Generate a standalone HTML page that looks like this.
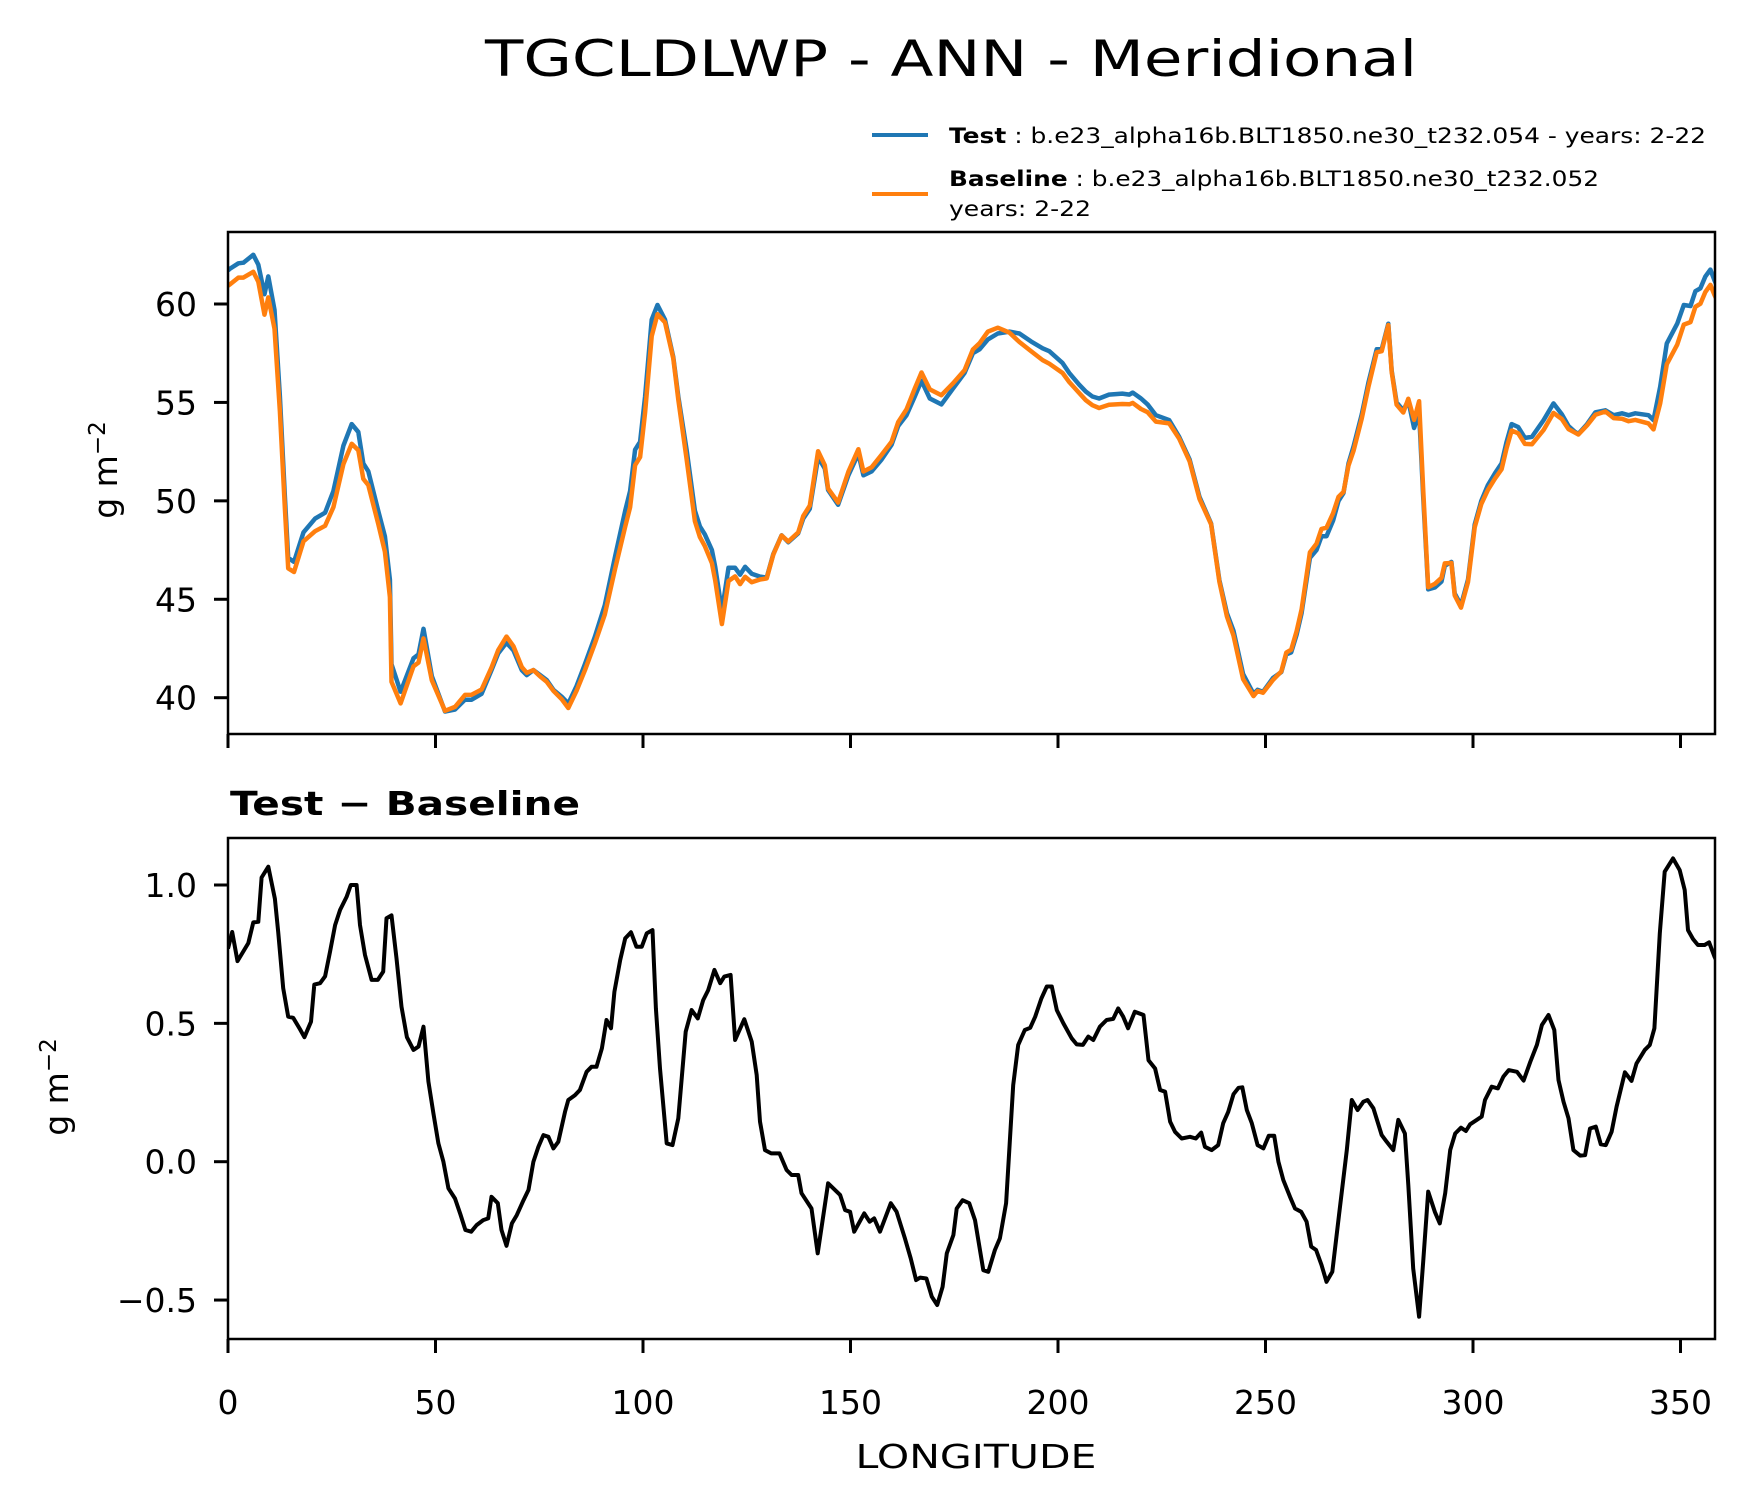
<!DOCTYPE html>
<html><head><meta charset="utf-8"><style>
html,body{margin:0;padding:0;background:#fff;}
svg{display:block;font-family:"DejaVu Sans","Liberation Sans",sans-serif;}
</style></head><body>
<svg id="chart" width="1748" height="1496" viewBox="0 0 1748 1496" xmlns="http://www.w3.org/2000/svg">
<defs>
<clipPath id="clipTop"><rect x="228" y="232" width="1487" height="502"/></clipPath>
<clipPath id="clipBot"><rect x="228" y="838" width="1487" height="501"/></clipPath>
</defs>
<text x="951" y="76" font-size="50" text-anchor="middle" textLength="932" lengthAdjust="spacingAndGlyphs">TGCLDLWP - ANN - Meridional</text>
<g>
<line x1="872" y1="135" x2="928" y2="135" stroke="#1f77b4" stroke-width="4"/>
<text x="949" y="143" font-size="21" textLength="757" lengthAdjust="spacingAndGlyphs"><tspan font-weight="bold">Test</tspan> : b.e23_alpha16b.BLT1850.ne30_t232.054 - years: 2-22</text>
<line x1="872" y1="194" x2="928" y2="194" stroke="#ff7f0e" stroke-width="4"/>
<text x="949" y="186" font-size="21" textLength="650" lengthAdjust="spacingAndGlyphs"><tspan font-weight="bold">Baseline</tspan> : b.e23_alpha16b.BLT1850.ne30_t232.052</text>
<text x="949" y="216" font-size="21" textLength="142" lengthAdjust="spacingAndGlyphs">years: 2-22</text>
</g>
<g id="topAxes"></g>
<g id="botAxes"></g>
<text x="230" y="815" font-size="33" font-weight="bold" textLength="350" lengthAdjust="spacingAndGlyphs">Test − Baseline</text>
<text x="976" y="1468" font-size="33" text-anchor="middle" textLength="241" lengthAdjust="spacingAndGlyphs">LONGITUDE</text>
<text transform="translate(117,470) rotate(-90)" font-size="33" text-anchor="middle">g m<tspan dy="-12" font-size="23">−2</tspan></text>
<text transform="translate(68,1087) rotate(-90)" font-size="33" text-anchor="middle">g m<tspan dy="-12" font-size="23">−2</tspan></text>
</svg>
<script>
const testLon=[0,0.5,2.5,3.7,6.1,7.3,8.8,9.7,11.2,12.5,13.7,14.5,15.9,18.2,21,23.4,25.4,27.8,29.8,31.4,32.6,33.8,36.2,37.8,39,39.4,41.6,44.7,45.9,47.1,49.1,52.3,54.7,57.1,58.7,61.1,63.5,65.1,67.1,68.8,70.8,72,73.6,75.2,76.8,78.4,80.4,82,84,86,88.4,90.8,93.3,95.7,96.9,98.1,99.3,100.5,102.1,103.5,105.3,107.3,108.5,110.5,112.5,113.7,114.9,116.6,117.4,119,120.6,122.2,123.4,124.6,126.2,128.2,129.8,131.4,133.4,135,137.4,138.6,140.2,142.2,143.8,144.6,147,149.5,151.9,153.1,155.1,157.5,159.9,161.5,163.5,165.5,167.1,169.1,171.9,174.7,177.5,179.5,181.1,183.1,185.5,188.3,190.7,193.5,196.3,197.9,201.1,202.7,205.1,206.7,208.3,209.9,212.3,215.5,217.2,218,220,221.6,223.6,226.8,229.2,231.7,234.1,236.9,238.9,240.7,242.3,244.6,247.1,248.1,249.4,251.8,253.8,255,256.2,257.5,258.7,260.7,262.3,263.5,264.7,266.3,267.6,268.8,270,271.2,273.2,274.8,276.8,278,279.6,280.4,281.6,283.2,284.4,285.8,287,288,289.2,290.8,292.4,293.2,294.8,295.6,297.1,298.8,300.4,302,303.6,305.3,306.9,308.1,309.3,310.9,312.5,314.2,317,319.4,321.4,323,324.6,325.4,327.5,329.5,331.9,333.9,335.9,337.5,339.1,342.3,343.5,345.1,346.7,349.2,350.8,352.4,353.6,354.8,356,357.2,358.2,359.5];
const testVal=[61.7,61.8,62.07,62.1,62.5,62.0,60.5,61.4,59.7,55.3,50.2,47.1,46.9,48.4,49.1,49.4,50.5,52.8,53.9,53.5,51.9,51.5,49.5,48.2,46,41.7,40.3,42,42.2,43.5,41.1,39.3,39.4,39.9,39.9,40.2,41.4,42.25,42.8,42.4,41.4,41.15,41.4,41.15,40.9,40.4,40.05,39.7,40.6,41.7,43.1,44.7,47.2,49.5,50.5,52.6,53,55.3,59.2,59.95,59.2,57.3,55.3,52.6,49.5,48.7,48.3,47.5,46.65,44.4,46.6,46.6,46.25,46.65,46.3,46.15,46.1,47.3,48.25,47.9,48.35,49.1,49.6,52.2,51.65,50.55,49.8,51.3,52.4,51.3,51.5,52.1,52.85,53.8,54.35,55.3,56.1,55.2,54.9,55.7,56.5,57.5,57.7,58.2,58.5,58.6,58.5,58.1,57.75,57.6,57,56.5,55.9,55.55,55.3,55.2,55.4,55.45,55.4,55.5,55.2,54.9,54.35,54.1,53.25,52.1,50.2,48.85,45.97,44.3,43.4,41.2,40.2,40.4,40.3,41.0,41.3,42.2,42.3,43.2,44.3,47.1,47.5,48.2,48.2,49.0,50,50.4,51.9,52.75,54.4,56,57.7,57.7,59,56.6,55,54.6,55.1,53.7,54.5,50.2,45.5,45.6,45.9,46.7,46.9,45.3,44.7,46,48.8,50.0,50.8,51.4,51.9,53.0,53.9,53.75,53.2,53.25,54.1,54.95,54.4,53.8,53.5,53.4,53.9,54.5,54.6,54.35,54.45,54.35,54.45,54.35,54.1,55.8,58,59,59.95,59.9,60.65,60.8,61.4,61.75,61.2,60.6];
const diffLon=[0,1,2.3,4.9,6.1,7.3,8.1,9.7,11.3,12.1,13.3,14.5,15.7,17.3,18.4,20,20.8,22.2,23.4,24.6,25.8,27,28.6,29.6,31,31.8,33,34.6,36.1,37.4,38.2,39.4,40.6,41.8,43.1,44.7,45.9,47.1,48.3,49.5,50.7,51.9,53.1,54.7,56,57.2,58.6,59.9,61.5,62.7,63.5,65,65.9,67.1,68.4,69.6,71.2,72.4,73.6,74.8,76,77.2,78.4,79.6,81.2,82,83.6,84.8,86.4,87.6,88.8,90.1,91.2,92.3,93.1,94.5,95.7,97.1,98.4,99.7,100.9,102.3,103.1,104.1,105.7,107.1,108.5,110.3,111.7,113.2,114.5,115.7,117.2,118.6,119.6,121.1,122.2,124.4,126.2,127.4,128.2,129.4,130.9,132.9,134.6,135.8,137.4,138.2,140.6,142.1,144.6,147.5,148.7,149.9,150.9,153.3,154.6,155.7,157.1,159.7,161.1,163.1,164.5,165.8,166.8,168.3,169.6,170.9,172.2,173.2,174.8,175.6,177,178.6,180,182,183.2,184.8,186,187.5,189.2,190.4,192,193.3,194.5,196,197.3,198.5,199.7,201.3,203.3,204.5,206,207.3,208.5,210.1,211.7,213.3,214.5,215.7,216.9,218.5,220.6,221.8,223.4,224.6,225.8,227,228.2,229.8,231.8,233.2,234.5,235.4,237,238.6,239.8,241,242.3,243.5,244.4,245.5,246.7,248.1,249.5,250.8,252.1,253.1,254.3,255.9,257.1,258.6,259.9,261,262.2,263.5,264.7,266.1,267.7,269.6,270.8,272.2,273.6,274.6,276,278,279.2,280.8,282,283.6,284.4,285.6,287,288,289.2,290.8,292,293.3,294.5,295.7,297.1,298.3,299.3,300.9,302.1,302.9,304.5,306,307.3,308.6,310.6,312.2,313.8,315.4,316.6,318.2,319.6,320.6,321.8,323,324.2,325.8,327,328.2,329.6,330.8,332,333.4,334.6,336.6,338.2,339.4,341.4,342.6,343.7,345,346.2,348.2,349.8,351,351.8,353,354.2,355.8,356.9,358.2,359.5];
const diffVal=[0.77,0.83,0.725,0.79,0.865,0.867,1.027,1.066,0.95,0.83,0.627,0.524,0.52,0.48,0.45,0.506,0.64,0.645,0.67,0.76,0.855,0.91,0.958,1.0,1.0,0.855,0.747,0.657,0.657,0.687,0.88,0.89,0.735,0.56,0.45,0.404,0.416,0.488,0.29,0.175,0.066,0.0,-0.096,-0.133,-0.19,-0.247,-0.253,-0.229,-0.211,-0.205,-0.127,-0.15,-0.247,-0.304,-0.223,-0.193,-0.139,-0.102,0.0,0.054,0.096,0.09,0.048,0.072,0.18,0.223,0.24,0.259,0.325,0.343,0.343,0.41,0.512,0.482,0.614,0.729,0.807,0.829,0.777,0.777,0.825,0.837,0.554,0.337,0.066,0.06,0.157,0.47,0.548,0.518,0.584,0.62,0.693,0.645,0.669,0.675,0.44,0.515,0.434,0.313,0.145,0.042,0.03,0.03,-0.03,-0.048,-0.048,-0.114,-0.169,-0.331,-0.078,-0.12,-0.175,-0.181,-0.253,-0.187,-0.217,-0.205,-0.253,-0.15,-0.181,-0.277,-0.349,-0.428,-0.419,-0.422,-0.488,-0.518,-0.452,-0.331,-0.265,-0.169,-0.139,-0.15,-0.211,-0.392,-0.398,-0.319,-0.277,-0.15,0.277,0.422,0.476,0.484,0.524,0.59,0.633,0.633,0.548,0.5,0.446,0.424,0.422,0.452,0.44,0.488,0.512,0.516,0.554,0.524,0.482,0.542,0.53,0.367,0.337,0.259,0.253,0.145,0.108,0.084,0.09,0.084,0.105,0.054,0.042,0.06,0.139,0.18,0.244,0.267,0.269,0.187,0.139,0.06,0.048,0.094,0.094,0,-0.066,-0.127,-0.169,-0.181,-0.217,-0.307,-0.319,-0.373,-0.434,-0.398,-0.193,0.042,0.223,0.187,0.217,0.223,0.193,0.096,0.072,0.042,0.151,0.102,-0.084,-0.386,-0.56,-0.361,-0.108,-0.181,-0.223,-0.114,0.042,0.102,0.123,0.111,0.135,0.151,0.163,0.223,0.271,0.265,0.307,0.331,0.325,0.293,0.361,0.422,0.494,0.53,0.476,0.295,0.217,0.157,0.042,0.022,0.024,0.12,0.127,0.063,0.06,0.108,0.199,0.323,0.292,0.355,0.404,0.422,0.482,0.825,1.048,1.096,1.054,0.982,0.837,0.805,0.783,0.783,0.793,0.741,0.7];
const xTicks=[0,50,100,150,200,250,300,350];
const topYTicks=[40,45,50,55,60];
const botYTicks=[-0.5,0.0,0.5,1.0];
const botYLabels=["−0.5","0.0","0.5","1.0"];

const NS="http://www.w3.org/2000/svg";
const X0=228,X1=1715;
const xs=lon=>228+lon*4.15;
const yTop=v=>304+(60-v)*19.685;
const yBot=v=>1161.7-v*276.7;
function mk(tag,attrs,parent){const e=document.createElementNS(NS,tag);for(const k in attrs)e.setAttribute(k,attrs[k]);parent.appendChild(e);return e;}
function interp(xArr,yArr,x){if(x<=xArr[0])return yArr[0];for(let i=1;i<xArr.length;i++){if(x<=xArr[i]){const t=(x-xArr[i-1])/(xArr[i]-xArr[i-1]);return yArr[i-1]+t*(yArr[i]-yArr[i-1]);}}return yArr[yArr.length-1];}
const baseVal=testLon.map((l,i)=>testVal[i]-interp(diffLon,diffVal,l));

function pathD(lons,vals,yf){return lons.map((l,i)=>(i?'L':'M')+xs(l).toFixed(1)+','+yf(vals[i]).toFixed(1)).join('');}

function axes(g,top,bottom,yf,yt,ylab,showX,clip){
  const tg=mk('g',{'clip-path':'url(#'+clip+')'},g);
  
  
  g._plot=tg;
  yt.forEach((v,i)=>{const y=yf(v);
    const t=mk('line',{x1:X0-14,y1:y,x2:X0,y2:y,stroke:'#000','stroke-width':3},g);
    
    
    const tx=mk('text',{x:197,y:y+12,'font-size':33,'text-anchor':'end'},g);
    tx.textContent=ylab[i];
    
    
  });
  xTicks.forEach(v=>{const x=xs(v);
    const t=mk('line',{x1:x,y1:bottom,x2:x,y2:bottom+14,stroke:'#000','stroke-width':3},g);
    
    
    if(showX){const tx=mk('text',{x:x,y:1414,'font-size':33,'text-anchor':'middle'},g);
      tx.textContent=String(v);
      
      }
  });
}
const tg=document.getElementById('topAxes'), bg=document.getElementById('botAxes');
axes(tg,232,734,yTop,topYTicks,topYTicks.map(String),false,'clipTop');
axes(bg,838,1339,yBot,botYTicks,botYLabels,true,'clipBot');

const pTest=mk('path',{d:pathD(testLon,testVal,yTop),fill:'none',stroke:'#1f77b4','stroke-width':4.5,'stroke-linejoin':'round'},tg._plot);


const pBase=mk('path',{d:pathD(testLon,baseVal,yTop),fill:'none',stroke:'#ff7f0e','stroke-width':4.5,'stroke-linejoin':'round'},tg._plot);


const pDiff=mk('path',{d:pathD(diffLon,diffVal,yBot),fill:'none',stroke:'#000','stroke-width':4,'stroke-linejoin':'round'},bg._plot);



const f1=mk('rect',{x:X0,y:232,width:X1-X0,height:502,fill:'none',stroke:'#000','stroke-width':2.5},tg);


const f2=mk('rect',{x:X0,y:838,width:X1-X0,height:501,fill:'none',stroke:'#000','stroke-width':2.5},bg);


</script>
</body></html>
